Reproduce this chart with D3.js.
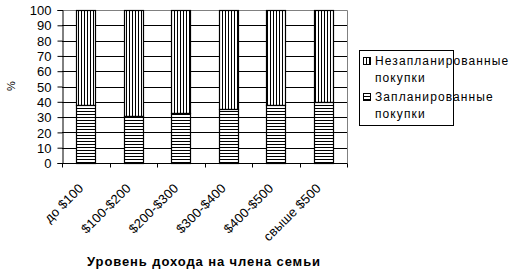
<!DOCTYPE html>
<html lang="ru">
<head>
<meta charset="UTF-8">
<script src="https://d3js.org/d3.v7.min.js"></script>
<style>
  body { margin: 0; background: #fff; }
  text { font-family: "Liberation Sans", Arial, sans-serif; fill: #000; }
</style>
</head>
<body>
<svg id="chart" width="527" height="272"></svg>
<script>
// data
const categories = ["до $100", "$100-$200", "$200-$300", "$300-$400", "$400-$500", "свыше $500"];
const planned = [38, 31, 33, 35, 38, 40];
const unplanned = [62, 69, 67, 65, 62, 60];
const yTicks = [0, 10, 20, 30, 40, 50, 60, 70, 80, 90, 100];
const seriesNames = ["Незапланированные покупки", "Запланированные покупки"];

const svg = d3.select("#chart");
const margin = { top: 10, left: 62, right: 180, bottom: 109 };

// hatch patterns
const defs = svg.append("defs");
const pv = defs.append("pattern").attr("id", "vert")
  .attr("patternUnits", "userSpaceOnUse").attr("width", 3).attr("height", 3);
pv.append("rect").attr("width", 3).attr("height", 3).attr("fill", "#fff");
pv.append("line").attr("x1", 0.5).attr("x2", 0.5).attr("y1", 0).attr("y2", 3)
  .attr("stroke", "#000").attr("stroke-width", 1);
const ph = defs.append("pattern").attr("id", "horiz")
  .attr("patternUnits", "userSpaceOnUse").attr("width", 3).attr("height", 3);
ph.append("rect").attr("width", 3).attr("height", 3).attr("fill", "#fff");
ph.append("line").attr("x1", 0).attr("x2", 3).attr("y1", 0.5).attr("y2", 0.5)
  .attr("stroke", "#000").attr("stroke-width", 1);

const x = d3.scaleBand().domain(categories).range([margin.left, 347]).paddingInner(0.6).paddingOuter(0.3);
const xb = d3.scaleBand().domain(categories).range([margin.left, 347]);
const y = d3.scaleLinear().domain([0, 100]).range([163, margin.top]);

// gridlines
svg.append("g").selectAll("line").data(yTicks.slice(1)).join("line")
  .attr("x1", margin.left).attr("x2", 347)
  .attr("y1", d => Math.round(y(d)) + 0.5).attr("y2", d => Math.round(y(d)) + 0.5)
  .attr("stroke", "#000");

// plot border (grey top and right)
svg.append("path")
  .attr("d", `M${margin.left},${y(100) + 0.5}H347.5V${y(0)}`)
  .attr("fill", "none").attr("stroke", "#808080");

// bars
const gBars = svg.append("g");
categories.forEach((c, i) => {
  gBars.append("rect")
    .attr("x", Math.round(x(c)) + 0.5).attr("width", Math.round(x.bandwidth()))
    .attr("y", Math.round(y(planned[i] + unplanned[i])) + 0.5)
    .attr("height", Math.round(y(planned[i])) - Math.round(y(planned[i] + unplanned[i])))
    .attr("fill", "url(#vert)").attr("stroke", "#000").attr("stroke-width", 1.2);
  gBars.append("rect")
    .attr("x", Math.round(x(c)) + 0.5).attr("width", Math.round(x.bandwidth()))
    .attr("y", Math.round(y(planned[i])) + 0.5)
    .attr("height", Math.round(y(0)) - Math.round(y(planned[i])))
    .attr("fill", "url(#horiz)").attr("stroke", "#000").attr("stroke-width", 1.2);
});

// y axis
const yAxis = svg.append("g").attr("transform", `translate(${margin.left + 0.5},0)`)
  .call(d3.axisLeft(y).tickValues(yTicks).tickSize(5).tickPadding(6));
yAxis.select(".domain").attr("stroke", "#000");
yAxis.selectAll(".tick line").attr("stroke", "#000");
yAxis.selectAll("text").style("font-size", "13px").attr("dy", "0.36em")
  .style("font-family", "Liberation Sans, Arial, sans-serif");

// x axis with ticks at band boundaries
const xAxisG = svg.append("g").attr("transform", `translate(0,${Math.round(y(0)) + 0.5})`);
xAxisG.append("line").attr("x1", margin.left).attr("x2", 347.5).attr("stroke", "#000");
xAxisG.selectAll(".bt").data(categories.concat([null])).join("line")
  .attr("x1", (d, i) => Math.round(margin.left + i * xb.step()) + 0.5)
  .attr("x2", (d, i) => Math.round(margin.left + i * xb.step()) + 0.5)
  .attr("y1", 0).attr("y2", 4).attr("stroke", "#000");
xAxisG.selectAll(".lbl").data(categories).join("text")
  .attr("transform", c => `translate(${xb(c) + xb.bandwidth() / 2 - 8},19) rotate(-45)`)
  .attr("text-anchor", "end").attr("dy", "0.7em")
  .style("font-size", "13px").style("letter-spacing", "0.2px")
  .text(c => c);

// axis titles
svg.append("text").attr("transform", "translate(15,86) rotate(-90)")
  .attr("text-anchor", "middle").style("font-size", "11px").text("%");
svg.append("text").attr("x", 204).attr("y", 266).attr("text-anchor", "middle")
  .style("font-size", "13px").style("font-weight", "bold").style("letter-spacing", "0.9px")
  .text("Уровень дохода на члена семьи");

// legend
const lg = svg.append("g");
lg.append("rect").attr("x", 359.5).attr("y", 50.5).attr("width", 94).attr("height", 75)
  .attr("fill", "#fff").attr("stroke", "#000");
const fills = ["url(#vert)", "url(#horiz)"];
seriesNames.forEach((s, i) => {
  const words = s.split(" ");
  const y0 = 61 + i * 36;
  lg.append("rect").attr("x", 363.5).attr("y", y0 - 3.5).attr("width", 7).attr("height", 7)
    .attr("fill", fills[i]).attr("stroke", "#000");
  words.forEach((w, j) => {
    lg.append("text").attr("x", 375).attr("y", y0 + j * 17).attr("dy", "0.35em")
      .style("font-size", "12px").style("letter-spacing", "1.1px").text(w);
  });
});
</script>
</body>
</html>
